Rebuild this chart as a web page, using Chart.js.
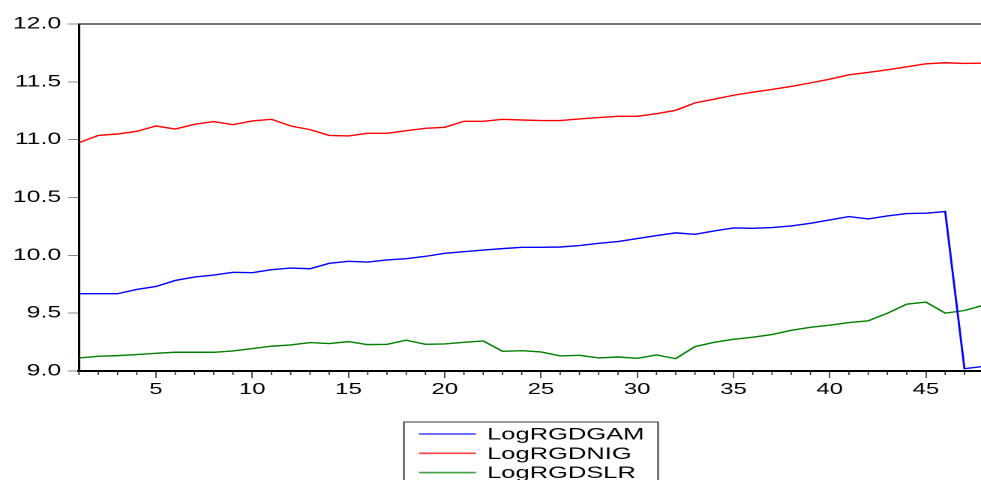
<!DOCTYPE html>
<html>
<head>
<meta charset="utf-8">
<script src="https://cdn.jsdelivr.net/npm/chart.js@4/dist/chart.umd.min.js"></script>
<style>
  html, body { margin: 0; padding: 0; background: #fff; overflow: hidden; width: 981px; height: 480px; }
  /* the plot is drawn narrow and widened 1.5x horizontally */
  #wrap { position: absolute; left: 0; top: 0; width: 654px; height: 480px; transform: scaleX(1.5); transform-origin: 0 0; }
  canvas { display: block; }
</style>
</head>
<body>
<div id="wrap"><canvas id="c" width="654" height="480"></canvas></div>
<script>
const periods = [1,2,3,4,5,6,7,8,9,10,11,12,13,14,15,16,17,18,19,20,21,22,23,24,25,26,27,28,29,30,31,32,33,34,35,36,37,38,39,40,41,42,43,44,45,46,47,48];

const logRGDGAM = [9.668, 9.668, 9.668, 9.705, 9.731, 9.783, 9.812, 9.829, 9.853, 9.850,
                   9.876, 9.890, 9.884, 9.931, 9.948, 9.942, 9.960, 9.971, 9.991, 10.017,
                   10.032, 10.046, 10.058, 10.069, 10.069, 10.072, 10.084, 10.104, 10.119, 10.145,
                   10.171, 10.194, 10.182, 10.211, 10.237, 10.234, 10.240, 10.254, 10.277, 10.306,
                   10.335, 10.315, 10.341, 10.361, 10.364, 10.379, 9.020, 9.040];

const logRGDNIG = [10.974, 11.037, 11.049, 11.072, 11.118, 11.092, 11.133, 11.156, 11.130, 11.162,
                   11.176, 11.118, 11.087, 11.037, 11.032, 11.055, 11.055, 11.078, 11.098, 11.107,
                   11.159, 11.159, 11.176, 11.170, 11.165, 11.165, 11.179, 11.191, 11.202, 11.202,
                   11.225, 11.254, 11.318, 11.350, 11.384, 11.410, 11.434, 11.460, 11.491, 11.523,
                   11.561, 11.581, 11.604, 11.630, 11.656, 11.665, 11.659, 11.662];

const logRGDSLR = [9.113, 9.127, 9.133, 9.142, 9.153, 9.162, 9.162, 9.162, 9.173, 9.194,
                   9.214, 9.225, 9.246, 9.237, 9.254, 9.228, 9.231, 9.266, 9.231, 9.234,
                   9.248, 9.260, 9.170, 9.176, 9.165, 9.130, 9.136, 9.113, 9.121, 9.110,
                   9.139, 9.107, 9.211, 9.248, 9.274, 9.292, 9.315, 9.352, 9.378, 9.396,
                   9.419, 9.434, 9.500, 9.578, 9.596, 9.500, 9.523, 9.569];

const seriesNames = ['LogRGDGAM', 'LogRGDNIG', 'LogRGDSLR'];
const seriesColors = ['#0000ff', '#ff0000', '#008000'];
const yTicks = { min: 9.0, max: 12.0, step: 0.5 };

const toPoints = vals => periods.map((p, i) => ({ x: p, y: vals[i] }));

Chart.defaults.font.family = "'Liberation Sans', Arial, sans-serif";
Chart.defaults.color = '#000';

// top frame line, minor x ticks and the boxed legend under the plot
const frame = {
  id: 'frame',
  afterDraw(chart) {
    const { ctx, chartArea: a, scales: { x } } = chart;
    ctx.save();
    ctx.strokeStyle = '#444';
    ctx.lineWidth = 1.5;
    ctx.beginPath();
    ctx.moveTo(a.left, a.top);
    ctx.lineTo(a.right, a.top);
    ctx.stroke();

    ctx.strokeStyle = '#222';
    ctx.lineWidth = 0.8;
    x.ticks.forEach(t => {
      if (t.value % 5 !== 0) {
        const px = x.getPixelForValue(t.value);
        ctx.beginPath();
        ctx.moveTo(px, a.bottom);
        ctx.lineTo(px, a.bottom + 4);
        ctx.stroke();
      }
    });

    // legend box
    const bx = 269.3, bw = 169.4, by = 422;
    ctx.strokeStyle = '#333';
    ctx.lineWidth = 1;
    ctx.strokeRect(bx, by, bw, 80);
    ctx.font = "17px 'Liberation Sans', Arial, sans-serif";
    ctx.textBaseline = 'alphabetic';
    ctx.textAlign = 'left';
    chart.data.datasets.forEach((ds, i) => {
      const ly = 434 + i * 19.3;
      ctx.strokeStyle = ds.borderColor;
      ctx.globalAlpha = 0.75;
      ctx.lineWidth = 1.6;
      ctx.beginPath();
      ctx.moveTo(279.3, ly);
      ctx.lineTo(317.3, ly);
      ctx.stroke();
      ctx.globalAlpha = 1;
      ctx.fillStyle = '#000';
      ctx.fillText(ds.label, 324.7, ly + 5.6);
    });
    ctx.restore();
  }
};

new Chart(document.getElementById('c'), {
  type: 'line',
  data: {
    datasets: [logRGDGAM, logRGDNIG, logRGDSLR].map((vals, i) => ({
      label: seriesNames[i],
      data: toPoints(vals),
      borderColor: seriesColors[i],
      backgroundColor: seriesColors[i],
      borderWidth: 1.4,
      pointRadius: 0,
      tension: 0,
      fill: false
    }))
  },
  options: {
    responsive: false,
    devicePixelRatio: 2,
    animation: false,
    layout: { padding: { top: 24, right: 0, left: 0, bottom: 0 } },
    plugins: { legend: { display: false }, tooltip: { enabled: false } },
    scales: {
      x: {
        type: 'linear',
        min: 1,
        max: 47.86,
        afterFit: s => { s.height = 109; },
        ticks: {
          stepSize: 1,
          autoSkip: false,
          includeBounds: false,
          maxRotation: 0,
          padding: 2,
          font: { size: 16 },
          color: '#000',
          callback: v => (v % 5 === 0 ? String(v) : '')
        },
        grid: {
          drawOnChartArea: false,
          tickLength: 7,
          tickWidth: 0.8,
          tickColor: c => (c.tick && c.tick.value % 5 === 0 ? '#222' : 'rgba(0,0,0,0)')
        },
        border: { display: true, color: '#000', width: 2 }
      },
      y: {
        min: yTicks.min,
        max: yTicks.max,
        afterFit: s => { s.width = 52.67; },
        ticks: {
          stepSize: yTicks.step,
          padding: 4.6,
          font: { size: 16.5 },
          color: '#000',
          callback: v => Number(v).toFixed(1)
        },
        grid: {
          drawOnChartArea: false,
          tickLength: 7.33,
          tickWidth: 1,
          tickColor: '#888'
        },
        border: { display: true, color: '#000', width: 1.5 }
      }
    }
  },
  plugins: [frame]
});
</script>
</body>
</html>
